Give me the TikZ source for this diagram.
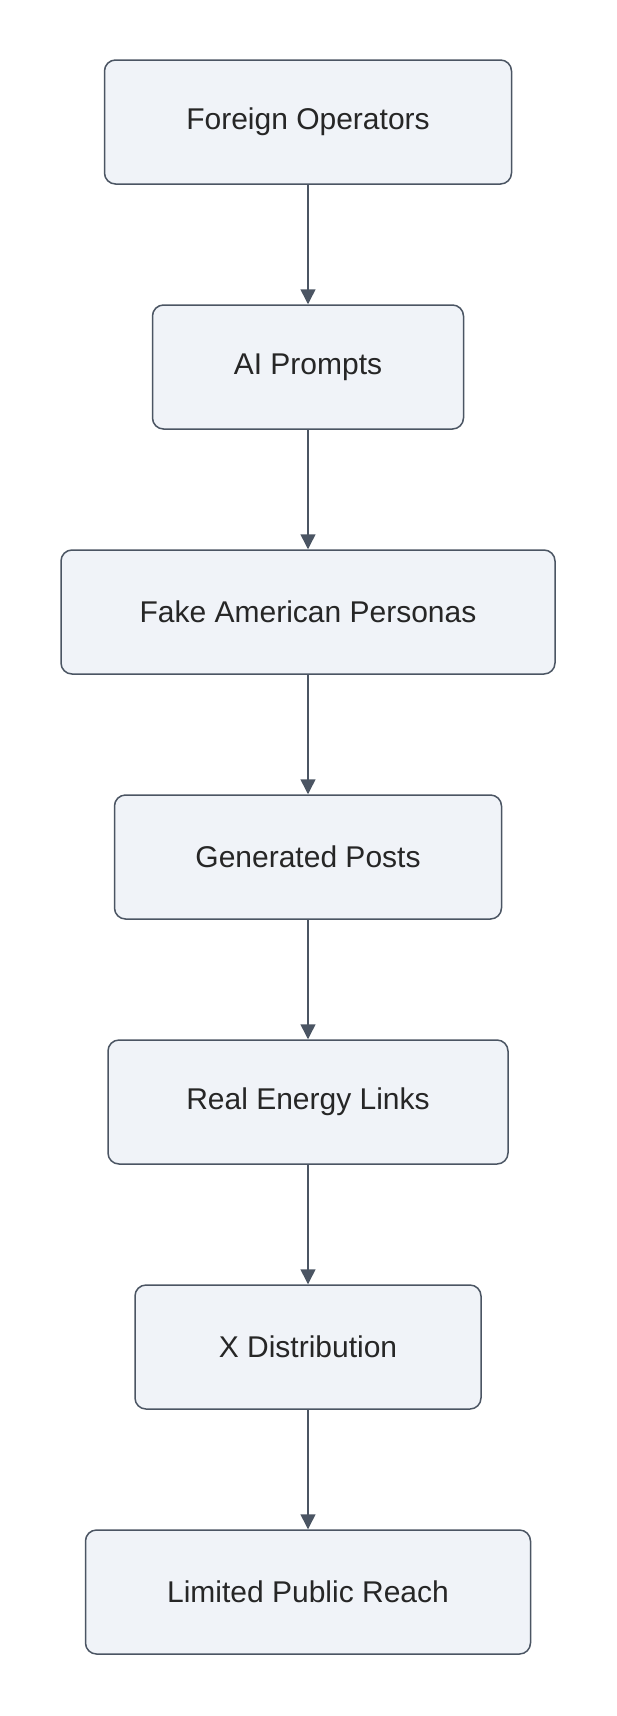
\documentclass[tikz,border=0pt]{standalone}
\usepackage{fontspec}
\setmainfont{Liberation Sans}
\usetikzlibrary{arrows.meta}
\definecolor{boxfill}{HTML}{F0F3F8}
\definecolor{boxline}{HTML}{4B5563}
\begin{document}
\begin{tikzpicture}[x=1pt,y=1pt,
  stage/.style={draw=boxline,fill=boxfill,line width=1.5pt,rounded corners=11pt,minimum height=124pt,font=\fontsize{30}{36}\selectfont,text=black!85},
  flow/.style={draw=boxline,line width=1.5pt,-{Triangle[length=15pt,width=15pt]}}]
\useasboundingbox (0,0) rectangle (616,-1716);

% boxes
\node[stage,minimum width=407pt] (ops) at (308,-122) {Foreign Operators};
\node[stage,minimum width=311pt] (prompts) at (308,-367) {AI Prompts};
\node[stage,minimum width=494pt] (personas) at (308,-612) {Fake American Personas};
\node[stage,minimum width=387pt] (posts) at (308,-857) {Generated Posts};
\node[stage,minimum width=400pt] (links) at (308,-1102) {Real Energy Links};
\node[stage,minimum width=346pt] (dist) at (308,-1347) {X Distribution};
\node[stage,minimum width=445pt] (reach) at (308,-1592) {Limited Public Reach};

% arrows
\draw[flow] (ops) -- (prompts);
\draw[flow] (prompts) -- (personas);
\draw[flow] (personas) -- (posts);
\draw[flow] (posts) -- (links);
\draw[flow] (links) -- (dist);
\draw[flow] (dist) -- (reach);
\end{tikzpicture}
\end{document}
